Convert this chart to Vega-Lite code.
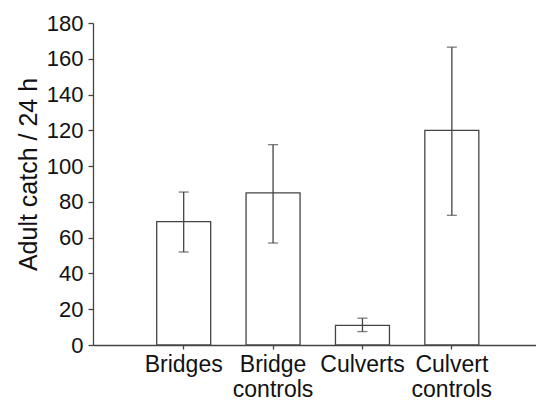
{
  "$schema": "https://vega.github.io/schema/vega-lite/v6.json",
  "width": 443,
  "height": 322,
  "autosize": "none",
  "padding": {"left": 93, "top": 23, "right": 0, "bottom": 55},
  "background": "white",
  "config": {
    "view": {"stroke": null},
    "font": "Liberation Sans",
    "axis": {"domainColor": "#444", "tickColor": "#444", "labelColor": "#111", "titleColor": "#111", "domainWidth": 1.3, "tickWidth": 1.3, "grid": false, "labelOverlap": false},
    "axisY": {
      "titleFontSize": 25,
      "titleFontWeight": "normal",
      "titlePadding": 5,
      "titleY": 151,
      "labelFontSize": 22,
      "labelPadding": 5,
      "tickSize": 5,
      "labelOverlap": false
    }
  },
  "data": {
    "values": [
      {"site": "Bridges", "mean": 69, "lo": 52, "hi": 85.5},
      {"site": "Bridge controls", "mean": 85, "lo": 57, "hi": 112},
      {"site": "Culverts", "mean": 11, "lo": 7.5, "hi": 15},
      {"site": "Culvert controls", "mean": 120, "lo": 72.5, "hi": 166.5}
    ]
  },
  "encoding": {
    "x": {
      "field": "site",
      "type": "nominal",
      "sort": null,
      "scale": {"paddingInner": 0.396, "paddingOuter": 0.676, "align": 0.527},
      "axis": {
        "title": null,
        "labelAngle": 0,
        "labelFontSize": 23,
        "labelPadding": 4,
        "tickSize": 4,
        "labelLineHeight": 25,
        "labelOverlap": false,
        "labelExpr": "split(datum.label, ' ')"
      }
    }
  },
  "layer": [
    {
      "mark": {"type": "bar", "fill": "white", "stroke": "#444", "strokeWidth": 1.3},
      "encoding": {
        "y": {
          "field": "mean",
          "type": "quantitative",
          "scale": {"domain": [0, 180], "nice": false},
          "axis": {"title": "Adult catch / 24 h", "values": [0, 20, 40, 60, 80, 100, 120, 140, 160, 180]}
        }
      }
    },
    {
      "mark": {"type": "rule", "color": "#444", "strokeWidth": 1.3},
      "encoding": {
        "y": {"field": "lo", "type": "quantitative", "axis": {"title": "Adult catch / 24 h", "values": [0, 20, 40, 60, 80, 100, 120, 140, 160, 180]}},
        "y2": {"field": "hi"}
      }
    },
    {
      "mark": {"type": "tick", "orient": "horizontal", "size": 10, "thickness": 1.3, "color": "#444"},
      "encoding": {"y": {"field": "lo", "type": "quantitative", "axis": {"title": "Adult catch / 24 h", "values": [0, 20, 40, 60, 80, 100, 120, 140, 160, 180]}}}
    },
    {
      "mark": {"type": "tick", "orient": "horizontal", "size": 10, "thickness": 1.3, "color": "#444"},
      "encoding": {"y": {"field": "hi", "type": "quantitative", "axis": {"title": "Adult catch / 24 h", "values": [0, 20, 40, 60, 80, 100, 120, 140, 160, 180]}}}
    }
  ]
}
